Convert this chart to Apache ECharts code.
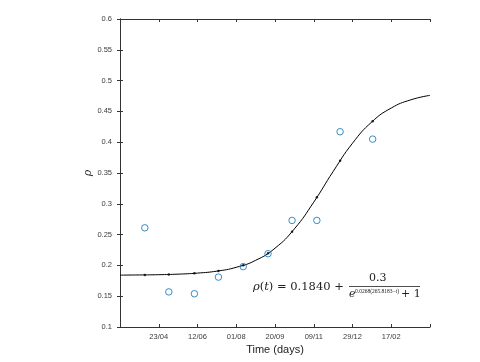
<!DOCTYPE html>
<html><head><meta charset="utf-8">
<script src="https://cdn.jsdelivr.net/npm/echarts@6/dist/echarts.min.js"></script>
<style>html,body{margin:0;padding:0;background:#fff}#c{width:480px;height:362px}</style>
</head><body><div id="c"></div>
<script>
// Observed data (t in days since 04/03, rho)
var obsT = [32, 63, 96, 127, 159, 191, 222, 254, 284, 326];
var obsRho = [0.261, 0.157, 0.154, 0.181, 0.198, 0.219, 0.273, 0.273, 0.417, 0.405];
// Fitted curve values
var fitT = [0, 25, 50, 75, 100, 125, 150, 175, 200, 225, 250, 275, 300, 325, 350, 375, 400];
var fitRho = [0.1842, 0.1845, 0.1849, 0.1858, 0.1875, 0.1907, 0.1969, 0.2082, 0.2279, 0.2593, 0.3027, 0.3524, 0.3983, 0.4330, 0.4555, 0.4687, 0.4760];
// Fitted curve at observation times (small dots on the curve)
var fitDotRho = [0.1846, 0.1853, 0.1871, 0.1911, 0.2002, 0.2196, 0.2548, 0.3105, 0.3699, 0.4342];
var xTickDays = [50, 100, 150, 200, 250, 300, 350];
var xTickLabels = ['23/04', '12/06', '01/08', '20/09', '09/11', '29/12', '17/02'];

var axisCol = '#333';
var labCol = '#3a3a3a';
function pairs(a, b) { return a.map(function (v, i) { return [v, b[i]]; }); }
function tickLabel(v) { var i = xTickDays.indexOf(v); return i >= 0 ? xTickLabels[i] : ''; }

var chart = echarts.init(document.getElementById('c'));
chart.setOption({
  animation: false,
  grid: { left: 120, right: 50, top: 19, bottom: 35 },
  xAxis: [{
    type: 'value', min: 0, max: 400, interval: 50, position: 'bottom',
    name: 'Time (days)', nameLocation: 'middle', nameGap: 17, nameMoveOverlap: false,
    nameTextStyle: { fontFamily: 'Liberation Sans', fontSize: 11, color: '#222' },
    axisLine: { lineStyle: { color: axisCol, width: 1 } },
    axisTick: { inside: true, length: 3, lineStyle: { color: axisCol } },
    axisLabel: { formatter: tickLabel, fontFamily: 'Liberation Sans', fontSize: 7.5, color: labCol, margin: 6 },
    splitLine: { show: false }
  }, {
    type: 'value', min: 0, max: 400, interval: 50, position: 'top',
    axisLine: { lineStyle: { color: axisCol, width: 1 } },
    axisTick: { inside: true, length: 3, lineStyle: { color: axisCol } },
    axisLabel: { show: false }, splitLine: { show: false }
  }],
  yAxis: [{
    type: 'value', min: 0.1, max: 0.6, interval: 0.05, position: 'left',
    name: 'ρ', nameLocation: 'middle', nameGap: 26, nameRotate: 90, nameMoveOverlap: false,
    nameTextStyle: { fontFamily: 'DejaVu Serif', fontStyle: 'italic', fontSize: 11, color: '#222' },
    axisLine: { lineStyle: { color: axisCol, width: 1 } },
    axisTick: { inside: true, length: 3, lineStyle: { color: axisCol } },
    axisLabel: { formatter: function (v) { return String(+v.toFixed(2)); }, fontFamily: 'Liberation Sans', fontSize: 7.5, color: labCol, margin: 8 },
    splitLine: { show: false }
  }, {
    type: 'value', min: 0.1, max: 0.6, interval: 0.05, position: 'right',
    axisLine: { show: true, lineStyle: { color: axisCol, width: 1 } },
    axisTick: { show: true, inside: true, length: 3, lineStyle: { color: axisCol } },
    axisLabel: { show: false }, splitLine: { show: false }
  }],
  series: [{
    type: 'line', data: pairs(fitT, fitRho), smooth: true, showSymbol: false,
    lineStyle: { color: '#000', width: 1 }, z: 2
  }, {
    type: 'scatter', data: pairs(obsT, fitDotRho), symbolSize: 2.5,
    itemStyle: { color: '#000' }, z: 3
  }, {
    type: 'scatter', data: pairs(obsT, obsRho), symbol: 'circle', symbolSize: 6.5,
    itemStyle: { color: 'rgba(0,0,0,0)', borderColor: '#0072BD', borderWidth: 1 }, z: 4
  }],
  graphic: [
    { type: 'text', left: 253, top: 281, style: {
      text: '{i|ρ}({i|t}) = 0.1840 +',
      font: '11.5px "DejaVu Serif"', fill: '#222',
      rich: { i: { fontFamily: 'DejaVu Serif', fontStyle: 'italic', fontSize: 11.5, fill: '#222' } } } },
    { type: 'text', left: 369, top: 273, style: { text: '0.3', font: '11px "DejaVu Serif"', fill: '#222' } },
    { type: 'line', shape: { x1: 349, y1: 286.5, x2: 420, y2: 286.5 }, style: { stroke: '#222', lineWidth: 0.8 } },
    { type: 'text', left: 349, top: 289, style: { text: 'e', font: 'italic 11px "DejaVu Serif"', fill: '#222' } },
    { type: 'text', left: 355, top: 288.5, style: { text: '0.0268(265.8183−t)', font: '5.5px "Liberation Serif"', fill: '#222' } },
    { type: 'text', left: 401, top: 289, style: { text: '+ 1', font: '11px "DejaVu Serif"', fill: '#222' } }
  ]
});
</script></body></html>
